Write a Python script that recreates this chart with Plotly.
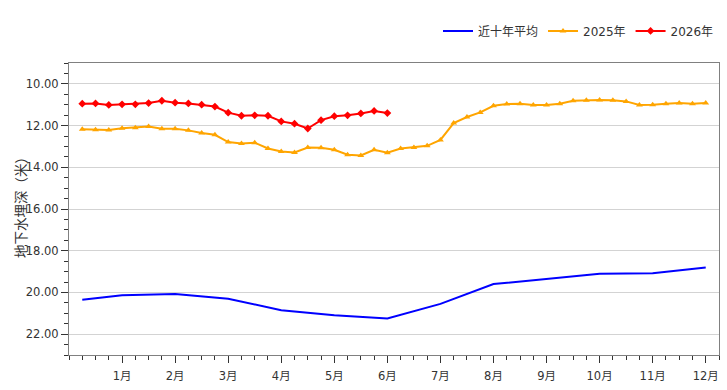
import plotly.graph_objects as go

months = ["1月", "2月", "3月", "4月", "5月", "6月", "7月", "8月", "9月", "10月", "11月", "12月"]
periods_per_month = 4

# 10-year average (given at first period and at month ends)
avg_idx = [0, 3, 7, 11, 15, 19, 23, 27, 31, 35, 39, 43, 47]
avg_vals = [20.35, 20.13, 20.07, 20.3, 20.85, 21.1, 21.25, 20.55, 19.6, 19.35, 19.1, 19.08, 18.8]

y2025 = [12.18, 12.2, 12.21, 12.13, 12.1, 12.04, 12.15, 12.15, 12.23, 12.36, 12.44, 12.79,
         12.86, 12.82, 13.1, 13.24, 13.29, 13.05, 13.06, 13.16, 13.4, 13.43, 13.16, 13.3,
         13.1, 13.05, 12.97, 12.69, 11.88, 11.59, 11.37, 11.05, 10.97, 10.95, 11.01, 11.01,
         10.95, 10.81, 10.79, 10.77, 10.79, 10.84, 11.01, 11.0, 10.95, 10.92, 10.95, 10.92]

y2026 = [10.95, 10.94, 11.01, 10.98, 10.98, 10.92, 10.81, 10.9, 10.94, 11.0, 11.09, 11.38,
         11.53, 11.51, 11.53, 11.8, 11.91, 12.14, 11.74, 11.55, 11.51, 11.42, 11.3, 11.4]

y_title = "地下水埋深（米）"

n_periods = len(months) * periods_per_month
month_tick_idx = [periods_per_month * (m + 1) - 1 for m in range(len(months))]

font_family = "DejaVu Sans, Noto Sans CJK SC, sans-serif"

fig = go.Figure()
fig.add_trace(go.Scatter(x=avg_idx, y=avg_vals, mode="lines", name="近十年平均",
                         line=dict(color="#0000FF", width=2)))
fig.add_trace(go.Scatter(x=list(range(len(y2025))), y=y2025, mode="lines+markers", name="2025年",
                         line=dict(color="#FFA500", width=2),
                         marker=dict(symbol="triangle-up", size=6, color="#FFA500")))
fig.add_trace(go.Scatter(x=list(range(len(y2026))), y=y2026, mode="lines+markers", name="2026年",
                         line=dict(color="#FF0000", width=2),
                         marker=dict(symbol="diamond", size=6, color="#FF0000")))

fig.update_layout(
    width=727, height=390,
    margin=dict(l=69, r=8, t=63, b=35, autoexpand=False),
    paper_bgcolor="white", plot_bgcolor="white",
    font=dict(family=font_family, size=12, color="#333333"),
    showlegend=True,
    legend=dict(orientation="h", x=1.0, xanchor="right", y=1.11, yanchor="middle",
                font=dict(size=12, color="#333333"), bgcolor="rgba(0,0,0,0)",
                itemwidth=30, tracegroupgap=0),
    xaxis=dict(
        range=[-1, n_periods], showgrid=False, zeroline=False,
        showline=True, linecolor="#808080", linewidth=1, mirror=True,
        tickmode="array", tickvals=month_tick_idx, ticktext=months,
        ticks="outside", ticklen=7, tickcolor="#333333",
        tickfont=dict(size=11.5, color="#333333"), ticklabelstandoff=3,
        minor=dict(tickmode="array", tickvals=list(range(-1, n_periods + 1)),
                   ticks="outside", ticklen=4, tickcolor="#333333", showgrid=False),
    ),
    yaxis=dict(
        range=[23, 9], showgrid=True, gridcolor="#d3d3d3", gridwidth=1, zeroline=False,
        showline=True, linecolor="#808080", linewidth=1, mirror=True,
        tickmode="linear", tick0=10, dtick=2, tickformat=".2f",
        ticks="outside", ticklen=7, tickcolor="#333333",
        tickfont=dict(size=11.5, color="#333333"),
        minor=dict(tickmode="linear", tick0=9, dtick=0.5, ticks="outside", ticklen=4,
                   tickcolor="#333333", showgrid=False),
    ),
    annotations=[dict(text=y_title, textangle=-90, xref="paper", yref="paper",
                      x=-0.0754, y=0.517, xanchor="center", yanchor="middle",
                      showarrow=False,
                      font=dict(family="Noto Sans CJK SC", size=13.5, color="#333333"))],
)

fig.write_html("out.html")
